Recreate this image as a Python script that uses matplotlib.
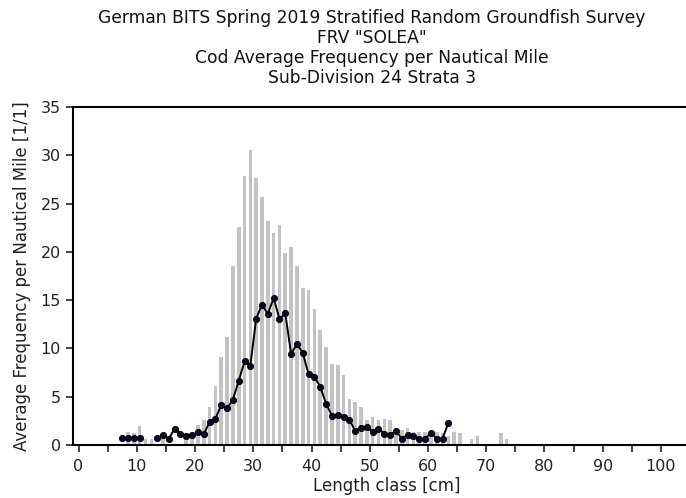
import numpy as np
import matplotlib
matplotlib.use('Agg')
import matplotlib.pyplot as plt
from matplotlib.ticker import MultipleLocator

# length classes [cm] and average frequency per nautical mile
bar_len = np.arange(8, 74)
bar_freq = [1.35, 1.25, 1.97, 0.66, 0.66, 0.0, 1.0, 0.0, 0.0, 0.0,
            1.17, 1.3, 2.07, 2.59, 3.9, 6.12, 9.15, 11.15, 18.57, 22.57,
            27.9, 30.55, 27.6, 25.7, 23.2, 21.97, 22.75, 19.85, 20.55, 18.5,
            16.3, 16.1, 14.08, 11.9, 10.15, 8.35, 8.25, 7.25, 4.8, 4.42,
            3.9, 2.59, 2.9, 2.59, 2.7, 2.55, 1.7, 1.57, 1.78, 1.37,
            1.37, 1.32, 1.35, 1.3, 1.28, 0.97, 1.38, 1.28, 0.0, 0.66,
            0.97, 0.0, 0.0, 0.0, 1.28, 0.66]

line_len = np.arange(7, 64)
line_freq = [0.69, 0.69, 0.69, 0.69, np.nan, np.nan, 0.69, 1.04, 0.66, 1.69,
             1.12, 0.97, 1.0, 1.3, 1.1, 2.38, 2.69, 4.16, 3.78, 4.7,
             6.63, 8.66, 8.22, 13.08, 14.53, 13.57, 15.22, 13.05, 13.63, 9.42,
             10.49, 9.53, 7.32, 7.04, 6.04, 4.28, 3.04, 3.14, 2.93, 2.62,
             1.46, 1.8, 1.85, 1.37, 1.67, 1.18, 1.07, 1.48, 0.64, 1.07,
             0.97, 0.64, 0.64, 1.25, 0.66, 0.66, 2.31]

title_lines = ['German BITS Spring 2019 Stratified Random Groundfish Survey',
               'FRV "SOLEA"',
               'Cod Average Frequency per Nautical Mile',
               'Sub-Division 24 Strata 3']

plt.rcParams['font.family'] = ['DejaVu Sans']

fig = plt.figure(figsize=(6.86, 4.98), dpi=100)
ax = fig.add_axes([72.7 / 686, 53 / 498, (700 - 72.7) / 686, 338 / 498])

ax.bar(bar_len + 0.5, bar_freq, width=0.62, color='#c3c3c3', zorder=1)
ax.plot(line_len + 0.5, line_freq, color='black', lw=1.4, zorder=2,
        marker='o', markersize=4.5, markerfacecolor='#0a0a28',
        markeredgecolor='black', markeredgewidth=0.6)

ax.set_xlim(-1.0, 106.7)
ax.set_ylim(0, 35)
ax.xaxis.set_major_locator(MultipleLocator(10))
ax.xaxis.set_minor_locator(MultipleLocator(5))
ax.yaxis.set_major_locator(MultipleLocator(5))
ax.tick_params(axis='both', which='both', direction='out', width=1.2,
               labelsize=11.5, colors='#222222')
ax.tick_params(axis='both', which='major', length=5)
ax.tick_params(axis='x', which='minor', length=5)
ax.tick_params(axis='x', pad=5)
for side in ['left', 'bottom', 'top']:
    ax.spines[side].set_linewidth(1.5)
ax.spines['right'].set_visible(False)

ax.set_xlabel('Length class [cm]', fontsize=12, color='#222222', labelpad=2)
ax.set_ylabel('Average Frequency per Nautical Mile [1/1]', fontsize=12,
              color='#222222', labelpad=7)

for i, t in enumerate(title_lines):
    fig.text(372 / 686, 1 - (18 + 20 * i) / 498, t, ha='center', va='center',
             fontsize=12.3, color='#111111')

fig.savefig('out.png', dpi=100)
